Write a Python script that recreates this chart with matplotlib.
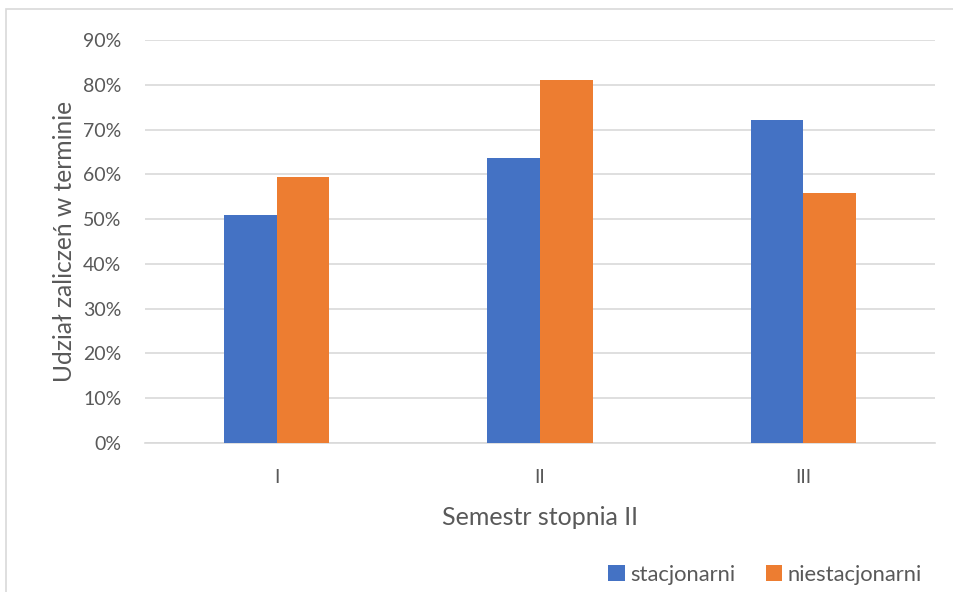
import matplotlib
matplotlib.use("Agg")
import matplotlib.pyplot as plt
import numpy as np
from matplotlib.patches import Rectangle

categories = ["I", "II", "III"]
stacjonarni = [51.0, 63.6, 72.1]
niestacjonarni = [59.3, 81.05, 55.8]
series_names = ["stacjonarni", "niestacjonarni"]
yticks = [0, 10, 20, 30, 40, 50, 60, 70, 80, 90]

plt.rcParams['font.family'] = ['Lato', 'DejaVu Sans']
fig = plt.figure(figsize=(9.54, 5.92), dpi=100)
ax = fig.add_axes([145/954, 1-443/592, (935-145)/954, (443-40)/592])

x = np.arange(len(categories))
w = 0.2
ax.bar(x - w/2, stacjonarni, w, color="#4472c4", label=series_names[0], zorder=3)
ax.bar(x + w/2, niestacjonarni, w, color="#ed7d31", label=series_names[1], zorder=3)

ax.set_xlim(-0.5, 2.5)
ax.set_ylim(0, 90)
ax.set_yticks(yticks)
ax.set_yticklabels([f"{v}%" for v in yticks])
ax.set_xticks(x)
ax.set_xticklabels(categories)
ax.grid(axis='y', color="#d9d9d9", linewidth=1.2, zorder=0)
for s in ['top', 'right', 'left']:
    ax.spines[s].set_visible(False)
ax.spines['bottom'].set_color("#d9d9d9")
ax.spines['bottom'].set_linewidth(1.2)
ax.tick_params(axis='both', length=0, colors="#595959", labelsize=14)
ax.tick_params(axis='y', pad=17)
ax.tick_params(axis='x', pad=19)

ax.set_ylabel("Udział zaliczeń w terminie", fontsize=17.7, color="#595959", labelpad=5)
ax.set_xlabel("Semestr stopnia II", fontsize=18, color="#595959", labelpad=14)

leg = fig.legend(loc='center right', bbox_to_anchor=(931/954, 1-575/592), ncol=2,
                 frameon=False, fontsize=15.8, handlelength=0.75, handleheight=0.75,
                 handletextpad=0.25, columnspacing=1.4, borderaxespad=0)
for t in leg.get_texts():
    t.set_color("#595959")

fig.patches.append(Rectangle((6/954, -0.1), 1.2, 1 - 9/592 + 0.1, transform=fig.transFigure,
                             fill=False, edgecolor="#d9d9d9", linewidth=1.2))

fig.savefig("out.png", dpi=100)
